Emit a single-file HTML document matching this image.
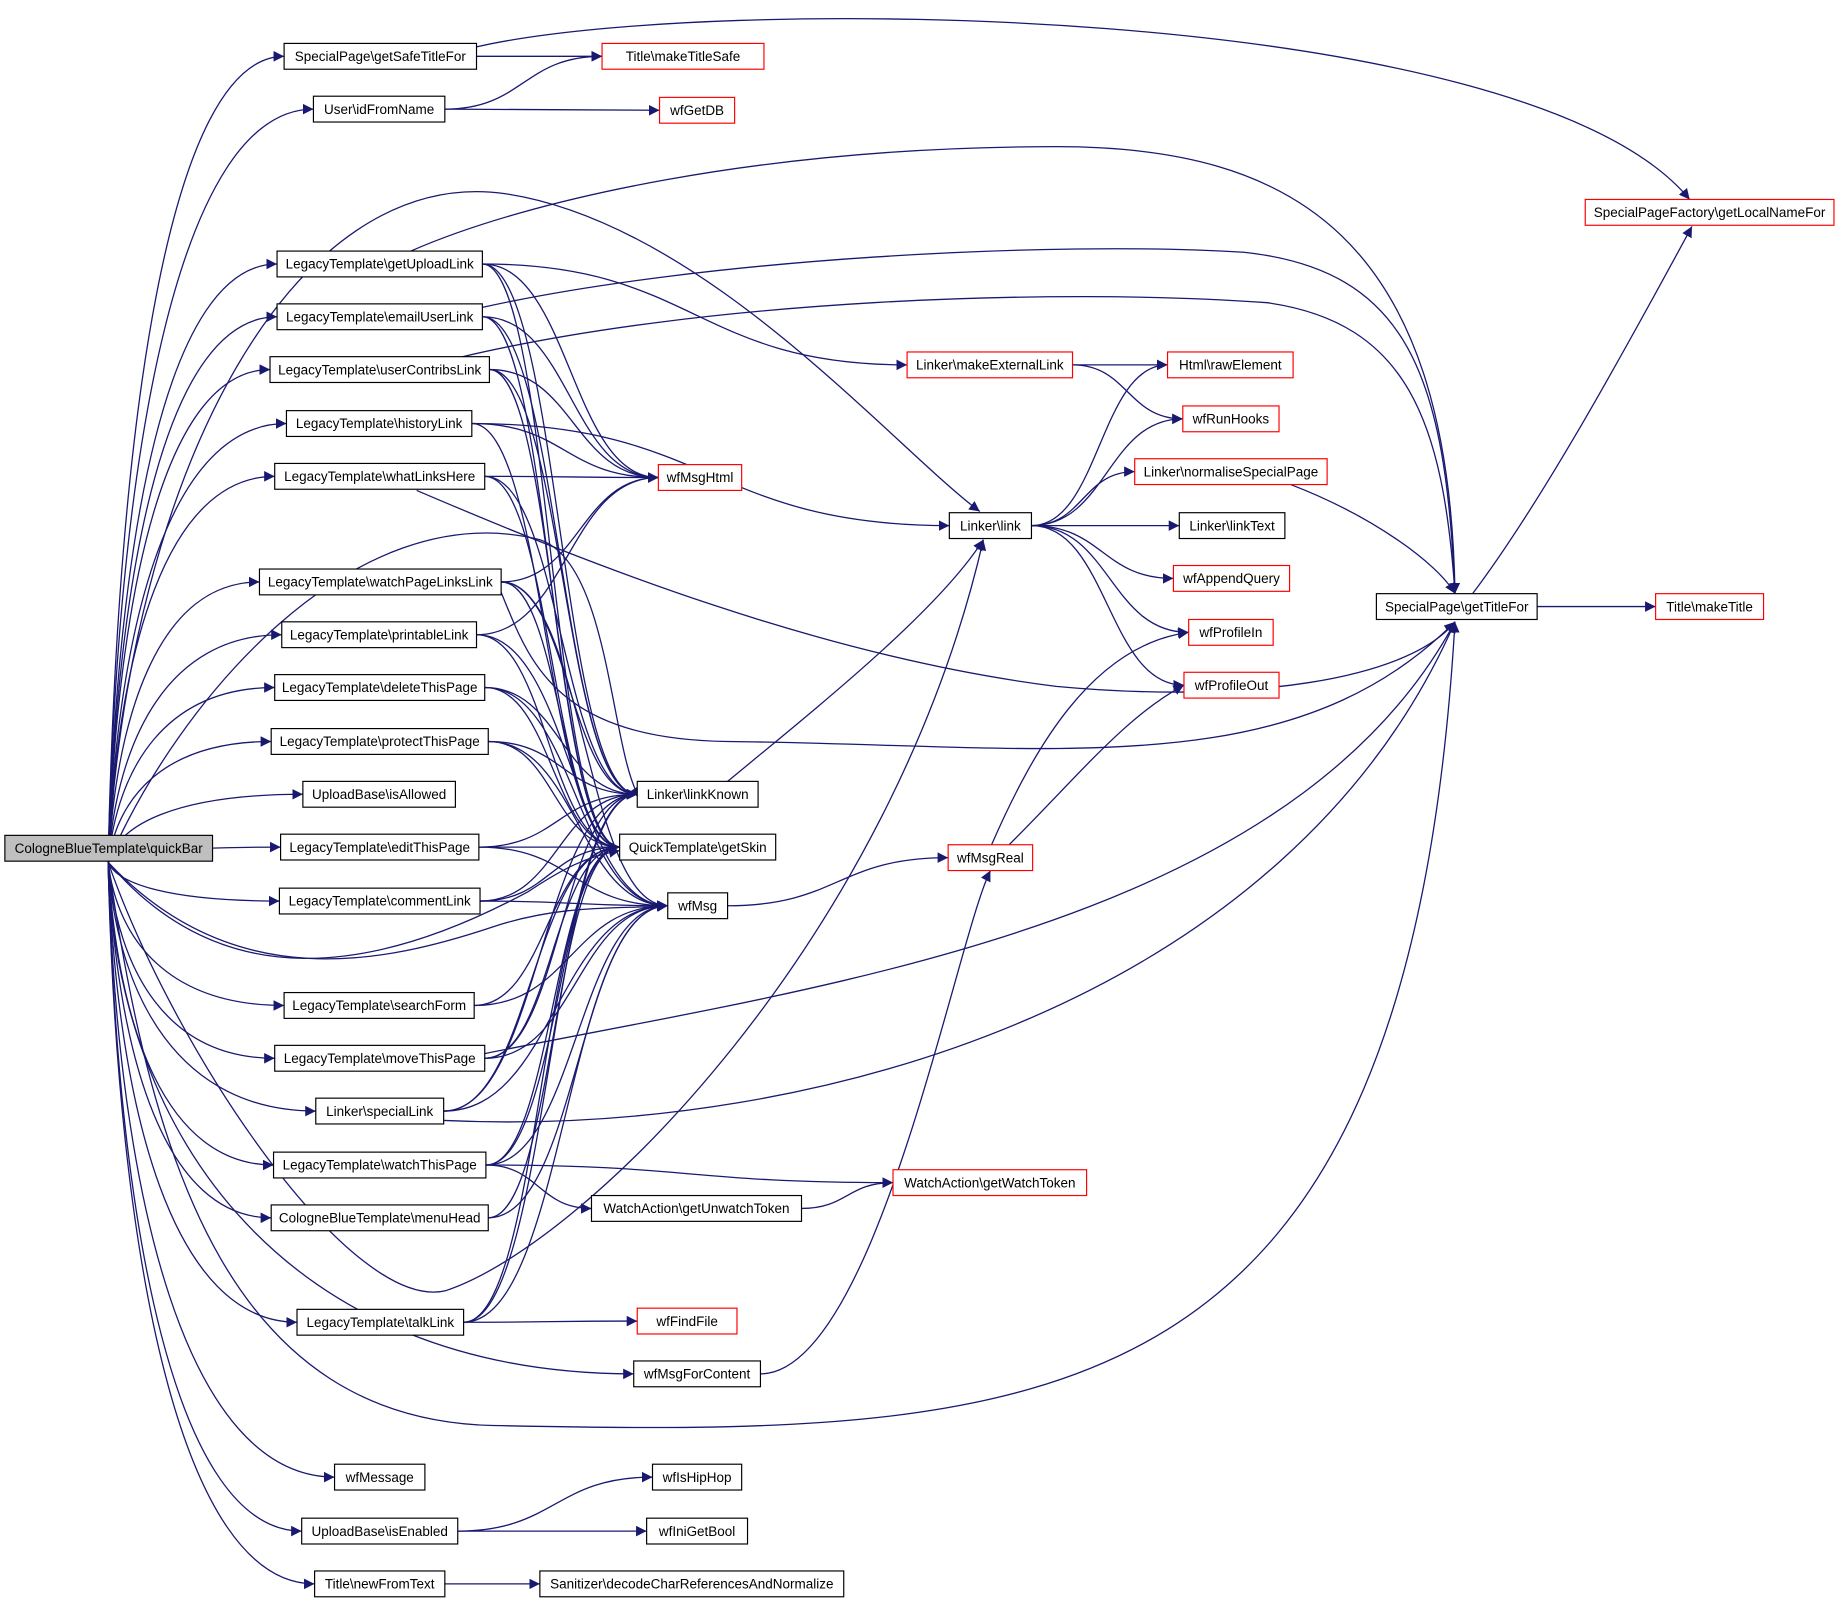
<!DOCTYPE html>
<html><head><meta charset="utf-8"><style>
html,body{margin:0;padding:0;background:#fff;}
svg{display:block;}
text{font-family:"Liberation Sans",sans-serif;font-size:11.5px;fill:#000;}
</style></head><body>
<svg id="g" width="1840" height="1605" viewBox="0 0 1568 1368" xmlns="http://www.w3.org/2000/svg">
<defs><marker id="a" viewBox="0 0 10 10" refX="10" refY="5" markerWidth="9" markerHeight="9" markerUnits="userSpaceOnUse" orient="auto"><path d="M0,0L10,5L0,10z" fill="#191970"/></marker></defs>
<g id="edges" fill="none" stroke="#191970" stroke-width="1.1"></g>
<g id="nodes"></g>
</svg>
<script>
var N={
qb:[4,181,723,"CologneBlueTemplate\\quickBar",2],
gstf:[242,406,48,"SpecialPage\\getSafeTitleFor"],
mts:[513,651,48,"Title\\makeTitleSafe",1],
ifn:[267,379,93,"User\\idFromName"],
gdb:[562,626,94,"wfGetDB",1],
gul:[236,411,225,"LegacyTemplate\\getUploadLink"],
eul:[236,411,270,"LegacyTemplate\\emailUserLink"],
ucl:[230,417,315,"LegacyTemplate\\userContribsLink"],
hl:[244,402,361,"LegacyTemplate\\historyLink"],
wlh:[234,413,406,"LegacyTemplate\\whatLinksHere"],
wpl:[221,427,496,"LegacyTemplate\\watchPageLinksLink"],
pl:[240,406,541,"LegacyTemplate\\printableLink"],
dtp:[234,413,586,"LegacyTemplate\\deleteThisPage"],
ptp:[231,416,632,"LegacyTemplate\\protectThisPage"],
ia:[258,388,677,"UploadBase\\isAllowed"],
etp:[239,408,722,"LegacyTemplate\\editThisPage"],
cl:[238,409,768,"LegacyTemplate\\commentLink"],
sf:[242,404,857,"LegacyTemplate\\searchForm"],
mtp:[234,413,902,"LegacyTemplate\\moveThisPage"],
sl:[269,378,947,"Linker\\specialLink"],
wtp:[233,414,993,"LegacyTemplate\\watchThisPage"],
mh:[231,416,1038,"CologneBlueTemplate\\menuHead"],
tl:[253,395,1127,"LegacyTemplate\\talkLink"],
mfc:[540,648,1171,"wfMsgForContent"],
wm:[285,362,1259,"wfMessage"],
ie:[257,390,1305,"UploadBase\\isEnabled"],
nft:[268,379,1350,"Title\\newFromText"],
mh2:[561,632,407,"wfMsgHtml",1],
lk:[543,646,677,"Linker\\linkKnown"],
gs:[528,661,722,"QuickTemplate\\getSkin"],
msg:[569,620,772,"wfMsg"],
mel:[773,914,311,"Linker\\makeExternalLink",1],
re:[995,1102,311,"Html\\rawElement",1],
rh:[1008,1090,357,"wfRunHooks",1],
nsp:[967,1131,402,"Linker\\normaliseSpecialPage",1],
ll:[809,879,448,"Linker\\link"],
lt:[1005,1095,448,"Linker\\linkText"],
aq:[1000,1099,493,"wfAppendQuery",1],
pi:[1013,1085,539,"wfProfileIn",1],
po:[1009,1090,584,"wfProfileOut",1],
mr:[808,880,731,"wfMsgReal",1],
gwt:[761,926,1008,"WatchAction\\getWatchToken",1],
gut:[504,683,1030,"WatchAction\\getUnwatchToken"],
ff:[543,628,1126,"wfFindFile",1],
hh:[556,632,1259,"wfIsHipHop"],
igb:[551,637,1305,"wfIniGetBool"],
san:[460,719,1350,"Sanitizer\\decodeCharReferencesAndNormalize"],
glf:[1351,1563,181,"SpecialPageFactory\\getLocalNameFor",1],
gtf:[1173,1310,517,"SpecialPage\\getTitleFor"],
mt:[1411,1503,517,"Title\\makeTitle",1]
};
var E=[
["gstf","mts"],["ifn","mts"],["ifn","gdb"],
["gul","mel"],["gul","mh2"],["gul","lk"],["gul","gs"],
["eul","mh2"],["eul","lk"],["eul","gs"],
["ucl","mh2"],["ucl","lk"],["ucl","gs"],
["hl","ll"],["hl","mh2"],["hl","gs"],
["wlh","mh2"],["wlh","lk"],["wlh","gs"],
["wpl","mh2"],["wpl","lk"],["wpl","gs"],["wpl","msg"],
["pl","mh2"],["pl","msg"],["pl","gs"],
["dtp","lk"],["dtp","gs"],["dtp","msg"],
["ptp","lk"],["ptp","gs"],["ptp","msg"],
["etp","lk"],["etp","gs"],["etp","msg"],
["cl","gs"],["cl","msg"],["cl","lk"],
["sf","msg"],["sf","gs"],
["mtp","lk"],["mtp","gs"],["mtp","msg"],
["sl","gs"],["sl","msg"],["sl","lk"],
["wtp","gwt"],["wtp","gut"],["wtp","lk"],["wtp","gs"],["wtp","msg"],
["mh","gs"],["mh","msg"],
["tl","ff"],["tl","gs"],["tl","msg"],["tl","lk"],
["mfc","mr","bottom"],["ie","hh"],["ie","igb"],["nft","san"],
["msg","mr"],["mel","re"],["mel","rh"],
["ll","re"],["ll","rh"],["ll","nsp"],["ll","lt"],["ll","aq"],["ll","pi"],["ll","po"],
["gut","gwt"],["gtf","mt"]
];
var QB=["gstf","ifn","gul","eul","ucl","hl","wlh","wpl","pl","dtp","ptp","ia","etp","cl","sf","mtp","sl","wtp","mh","tl","mfc","wm","ie","nft"];
var eg=document.getElementById("edges"),ng=document.getElementById("nodes"),NS="http://www.w3.org/2000/svg";
function path(d){var p=document.createElementNS(NS,"path");p.setAttribute("d",d);p.setAttribute("marker-end","url(#a)");eg.appendChild(p);}
function tgt(t,mode){var n=N[t];var cx=(n[0]+n[1])/2;
 if(mode=="top")return [cx,n[2]-11,cx,n[2]-70];
 if(mode=="bottom")return [cx,n[2]+11,cx,n[2]+70];
 return [n[0],n[2],null,n[2]];}
E.forEach(function(e){var s=N[e[0]],t=tgt(e[1],e[2]);var sx=s[1],sy=s[2];
 var c2x=t[2]!=null?t[2]:(sx+t[0])/2, c2y=t[3];
 if(e[2]=="top"||e[2]=="bottom"){c2x=t[0]-(t[0]-sx)*0.15;}
 path("M"+sx+","+sy+" C"+((sx+t[0])/2)+","+sy+" "+c2x+","+c2y+" "+t[0]+","+t[1]);});
var sx=92,sy=735;
QB.forEach(function(k){var n=N[k];var tx=n[0],ty=n[2];
 path("M"+sx+","+sy+" C"+(sx+8)+","+(sy+(ty-sy)*0.55)+" "+(sx+(tx-sx)*0.35)+","+ty+" "+tx+","+ty);});
// custom edges
[
"M406,40 C600,-5 1300,0 1440,170",
"M350,214 C450,170 650,125 900,125 C1100,125 1235,200 1240,506",
"M411,262 C600,220 900,205 1060,215 C1200,230 1232,320 1240,506",
"M390,305 C600,255 900,245 1080,258 C1200,275 1230,360 1240,506",
"M355,418 C500,480 700,560 900,585 C1060,600 1200,580 1240,530",
"M427,505 C450,560 470,630 620,632 C900,635 1100,670 1240,530",
"M413,898 C700,840 1100,790 1240,530",
"M378,955 C700,970 1100,850 1240,530",
"M1100,413 C1170,440 1225,480 1240,506",
"M1255,506 C1320,420 1400,270 1442,193",
"M620,666 C700,600 800,520 838,460",
"M845,720 C880,640 930,550 1013,539",
"M860,720 C920,660 960,610 1009,584",
"M92,735 C110,400 250,140 430,165 C600,190 760,380 835,436",
"M92,735 C150,600 300,420 460,460 C520,480 520,640 545,680",
"M92,735 C200,850 330,820 420,790 C480,770 530,775 569,772",
"M92,735 C150,900 300,1120 380,1100 C500,1060 760,800 838,460",
"M92,735 C130,1000 200,1210 420,1215 C900,1225 1200,1215 1240,530",
"M92,735 C190,850 320,830 450,760 C480,740 500,730 528,725"
].forEach(path);
Object.keys(N).forEach(function(k){var n=N[k];var g=document.createElementNS(NS,"g");
 var r=document.createElementNS(NS,"rect");r.setAttribute("x",n[0]);r.setAttribute("y",n[2]-11);r.setAttribute("width",n[1]-n[0]);r.setAttribute("height",22);
 r.setAttribute("fill",n[4]==2?"#bfbfbf":"#fff");r.setAttribute("stroke",n[4]==1?"#ff0000":"#000");r.setAttribute("stroke-width","1");g.appendChild(r);
 var t=document.createElementNS(NS,"text");t.setAttribute("x",(n[0]+n[1])/2);t.setAttribute("y",n[2]+4);t.setAttribute("text-anchor","middle");t.textContent=n[3];g.appendChild(t);ng.appendChild(g);});
</script>
</body></html>
